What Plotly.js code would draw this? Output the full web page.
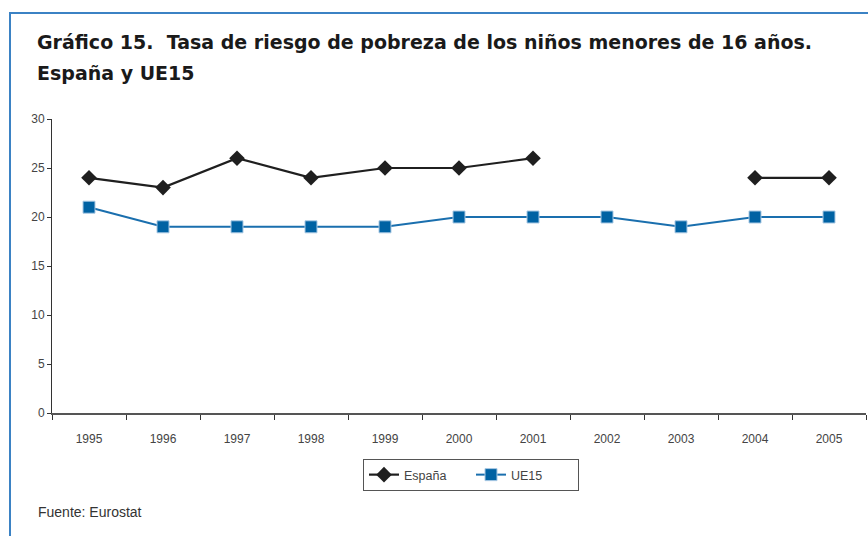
<!DOCTYPE html>
<html>
<head>
<meta charset="utf-8">
<script src="https://cdn.plot.ly/plotly-3.0.1.min.js"></script>
<style>
  html, body { margin: 0; padding: 0; background: #fff; }
  #chart { width: 868px; height: 536px; }
</style>
</head>
<body>
<div id="chart"></div>
<script>
const years = ['1995','1996','1997','1998','1999','2000','2001','2002','2003','2004','2005'];
const espana = [24, 23, 26, 24, 25, 25, 26, null, null, 24, 24];
const ue15 = [21, 19, 19, 19, 19, 20, 20, 20, 19, 20, 20];
const yTicks = [0, 5, 10, 15, 20, 25, 30];

const W = 868, H = 536;
const L = 52, R = 2, T = 119, B = 123;
const pw = W - L - R, ph = H - T - B;
const px = x => (x - L) / pw;
const py = y => (H - B - y) / ph;

const traces = [
  {
    x: years, y: espana, name: 'España', type: 'scatter', mode: 'lines+markers',
    connectgaps: false,
    line: { color: '#1f1f1f', width: 2.2 },
    marker: { symbol: 'diamond', size: 12, color: '#1f1f1f' },
    cliponaxis: false
  },
  {
    x: years, y: ue15, name: 'UE15', type: 'scatter', mode: 'lines+markers',
    line: { color: '#1a6fae', width: 2 },
    marker: { symbol: 'square', size: 12, color: '#0062a3', line: { color: '#a9c9e4', width: 1 } },
    cliponaxis: false
  }
];

const layout = {
  width: W, height: H,
  margin: { l: L, r: R, t: T, b: B },
  paper_bgcolor: '#ffffff', plot_bgcolor: '#ffffff',
  font: { family: '"Liberation Sans", Arial, sans-serif', color: '#444', size: 12 },
  showlegend: true,
  legend: {
    orientation: 'h', x: px(471), xanchor: 'center', y: py(459), yanchor: 'top',
    bordercolor: '#555', borderwidth: 1, bgcolor: '#fff',
    font: { size: 12.5, color: '#444' }, entrywidth: 62, entrywidthmode: 'pixels',
    traceorder: 'normal'
  },
  xaxis: {
    type: 'category', range: [-0.5, 10.5], fixedrange: true,
    showgrid: false, zeroline: false,
    showline: true, linecolor: '#555', linewidth: 1.5,
    ticks: 'outside', ticklen: 5, tickcolor: '#333', tickwidth: 1,
    tickson: 'boundaries', ticklabelstandoff: 14,
    tickfont: { size: 12, color: '#444' }
  },
  yaxis: {
    range: [0, 30], tickvals: yTicks, ticktext: yTicks.map(String), fixedrange: true,
    showgrid: false, zeroline: false,
    showline: true, linecolor: '#333', linewidth: 1,
    ticks: 'outside', ticklen: 4, tickcolor: '#333', tickwidth: 1,
    tickfont: { size: 12, color: '#444' }
  },
  annotations: [
    {
      text: '<b>Gráfico 15.  Tasa de riesgo de pobreza de los niños menores de 16 años.</b>',
      xref: 'paper', yref: 'paper', x: px(35), y: py(29), xanchor: 'left', yanchor: 'top',
      showarrow: false, font: { size: 19, color: '#1a1a1a', family: '"DejaVu Sans", sans-serif' }
    },
    {
      text: '<b>España y UE15</b>',
      xref: 'paper', yref: 'paper', x: px(35), y: py(60), xanchor: 'left', yanchor: 'top',
      showarrow: false, font: { size: 19, color: '#1a1a1a', family: '"DejaVu Sans", sans-serif' }
    },
    {
      text: 'Fuente: Eurostat',
      xref: 'paper', yref: 'paper', x: px(36), y: py(512), xanchor: 'left', yanchor: 'middle',
      showarrow: false, font: { size: 14, color: '#333' }
    }
  ],
  shapes: [
    { type: 'line', xref: 'paper', yref: 'paper', x0: px(10), x1: px(868), y0: py(13), y1: py(13),
      line: { color: '#3b82c4', width: 2 } },
    { type: 'line', xref: 'paper', yref: 'paper', x0: px(10), x1: px(10), y0: py(12), y1: py(536),
      line: { color: '#3b82c4', width: 2 } }
  ]
};

Plotly.newPlot('chart', traces, layout, { displayModeBar: false, staticPlot: true });
</script>
</body>
</html>
